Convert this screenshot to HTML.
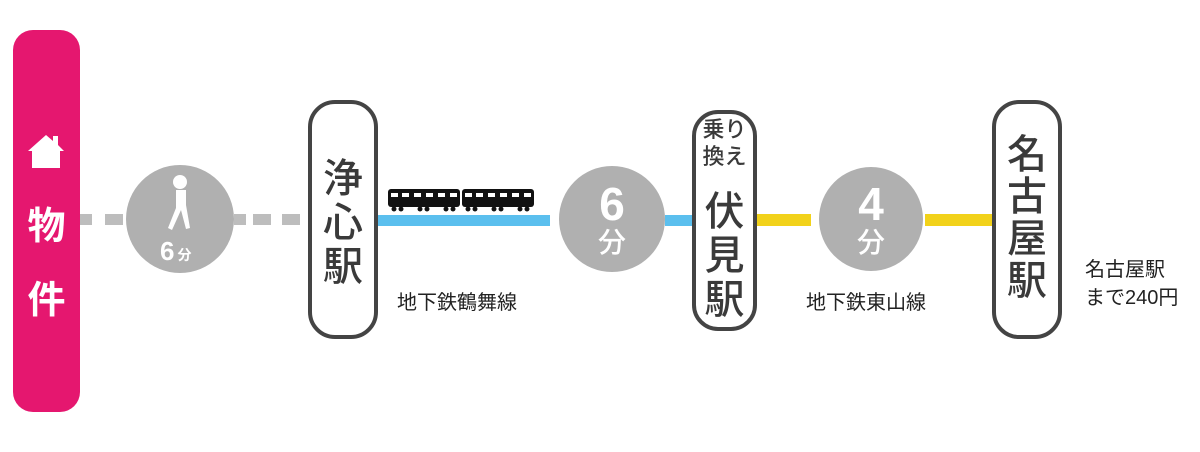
<!DOCTYPE html>
<html><head><meta charset="utf-8"><style>
body{margin:0;width:1200px;height:452px;background:#fff;position:relative;overflow:hidden;font-family:"Liberation Sans","Noto Sans CJK JP",sans-serif}
.a{position:absolute}
.v{position:absolute;text-align:center;color:#3a3a3a;font-weight:500;line-height:1}
.l{position:absolute;font-size:20px;color:#222;white-space:nowrap}
</style></head><body>
<svg class="a" style="left:0;top:0" width="1200" height="452">
<rect x="13" y="30" width="67" height="382" rx="20" fill="#e5176f"/>
<path d="M46 135 L28 151 H32 V168 H60 V151 H64 L58 145 V136 H53 V141 Z" fill="#fff"/>
<g fill="#bdbdbd">
<rect x="80" y="214" width="12" height="11"/><rect x="105" y="214" width="18" height="11"/>
<rect x="234" y="214" width="12" height="11"/><rect x="253" y="214" width="18" height="11"/><rect x="282" y="214" width="18" height="11"/>
</g>
<rect x="378" y="215" width="172" height="11" fill="#5bbfee"/>
<rect x="665" y="215" width="27" height="11" fill="#5bbfee"/>
<rect x="756" y="214" width="55" height="12" fill="#f2d21a"/>
<rect x="925" y="214" width="67" height="12" fill="#f2d21a"/>
<circle cx="180" cy="219" r="54" fill="#b0b0b0"/>
<circle cx="612" cy="219" r="53" fill="#b0b0b0"/>
<circle cx="871" cy="219" r="52" fill="#b0b0b0"/>
<circle cx="180" cy="182" r="7" fill="#fff"/>
<path d="M176 190 L186 190 L186 205 L190 228 L186 229 L181 210 L172 230 L168 228 L176 208 Z" fill="#fff"/>
<g fill="#111">
<rect x="388" y="189" width="72" height="18" rx="3"/><rect x="462" y="189" width="72" height="18" rx="3"/>
<circle cx="394" cy="209" r="2.5"/><circle cx="401" cy="209" r="2.5"/><circle cx="420" cy="209" r="2.5"/><circle cx="427" cy="209" r="2.5"/><circle cx="446" cy="209" r="2.5"/><circle cx="453" cy="209" r="2.5"/>
<circle cx="468" cy="209" r="2.5"/><circle cx="475" cy="209" r="2.5"/><circle cx="494" cy="209" r="2.5"/><circle cx="501" cy="209" r="2.5"/><circle cx="520" cy="209" r="2.5"/><circle cx="527" cy="209" r="2.5"/>
</g>
<g fill="#fff">
<rect x="391" y="193" width="7" height="4"/><rect x="402" y="193" width="7" height="4"/><rect x="414" y="193" width="7" height="4"/><rect x="426" y="193" width="7" height="4"/><rect x="438" y="193" width="7" height="4"/><rect x="450" y="193" width="7" height="4"/>
<rect x="465" y="193" width="7" height="4"/><rect x="476" y="193" width="7" height="4"/><rect x="488" y="193" width="7" height="4"/><rect x="500" y="193" width="7" height="4"/><rect x="512" y="193" width="7" height="4"/><rect x="524" y="193" width="7" height="4"/>
</g>
<g fill="#fff" stroke="#444" stroke-width="4">
<rect x="310" y="102" width="66" height="235" rx="25"/>
<rect x="694" y="112" width="61" height="217" rx="24"/>
<rect x="994" y="102" width="66" height="235" rx="25"/>
</g>
</svg>
<div class="v" style="left:13px;width:67px;top:190px;font-size:38px;color:#fff;font-weight:bold;line-height:74px">物<br>件</div>
<div class="a" style="left:160px;top:236px;color:#fff;font-weight:bold;font-size:26px">6<span style="font-size:14px;margin-left:3px">分</span></div>
<div class="v" style="left:310px;width:66px;top:157px;font-size:40px;line-height:44px">浄<br>心<br>駅</div>
<div class="v" style="left:582px;width:60px;top:181px;color:#fff;font-weight:bold;font-size:46px">6</div>
<div class="v" style="left:582px;width:60px;top:229px;color:#fff;font-size:28px">分</div>
<div class="v" style="left:694px;width:61px;top:116px;font-size:22px;line-height:27px">乗り<br>換え</div>
<div class="v" style="left:694px;width:61px;top:190px;font-size:40px;line-height:44px">伏<br>見<br>駅</div>
<div class="v" style="left:841px;width:60px;top:181px;color:#fff;font-weight:bold;font-size:46px">4</div>
<div class="v" style="left:841px;width:60px;top:229px;color:#fff;font-size:28px">分</div>
<div class="v" style="left:994px;width:66px;top:134px;font-size:40px;line-height:42px">名<br>古<br>屋<br>駅</div>
<div class="l" style="left:397px;top:286px">地下鉄鶴舞線</div>
<div class="l" style="left:806px;top:286px">地下鉄東山線</div>
<div class="l" style="left:1085px;top:256px;line-height:28px">名古屋駅<br>まで240円</div>
</body></html>
